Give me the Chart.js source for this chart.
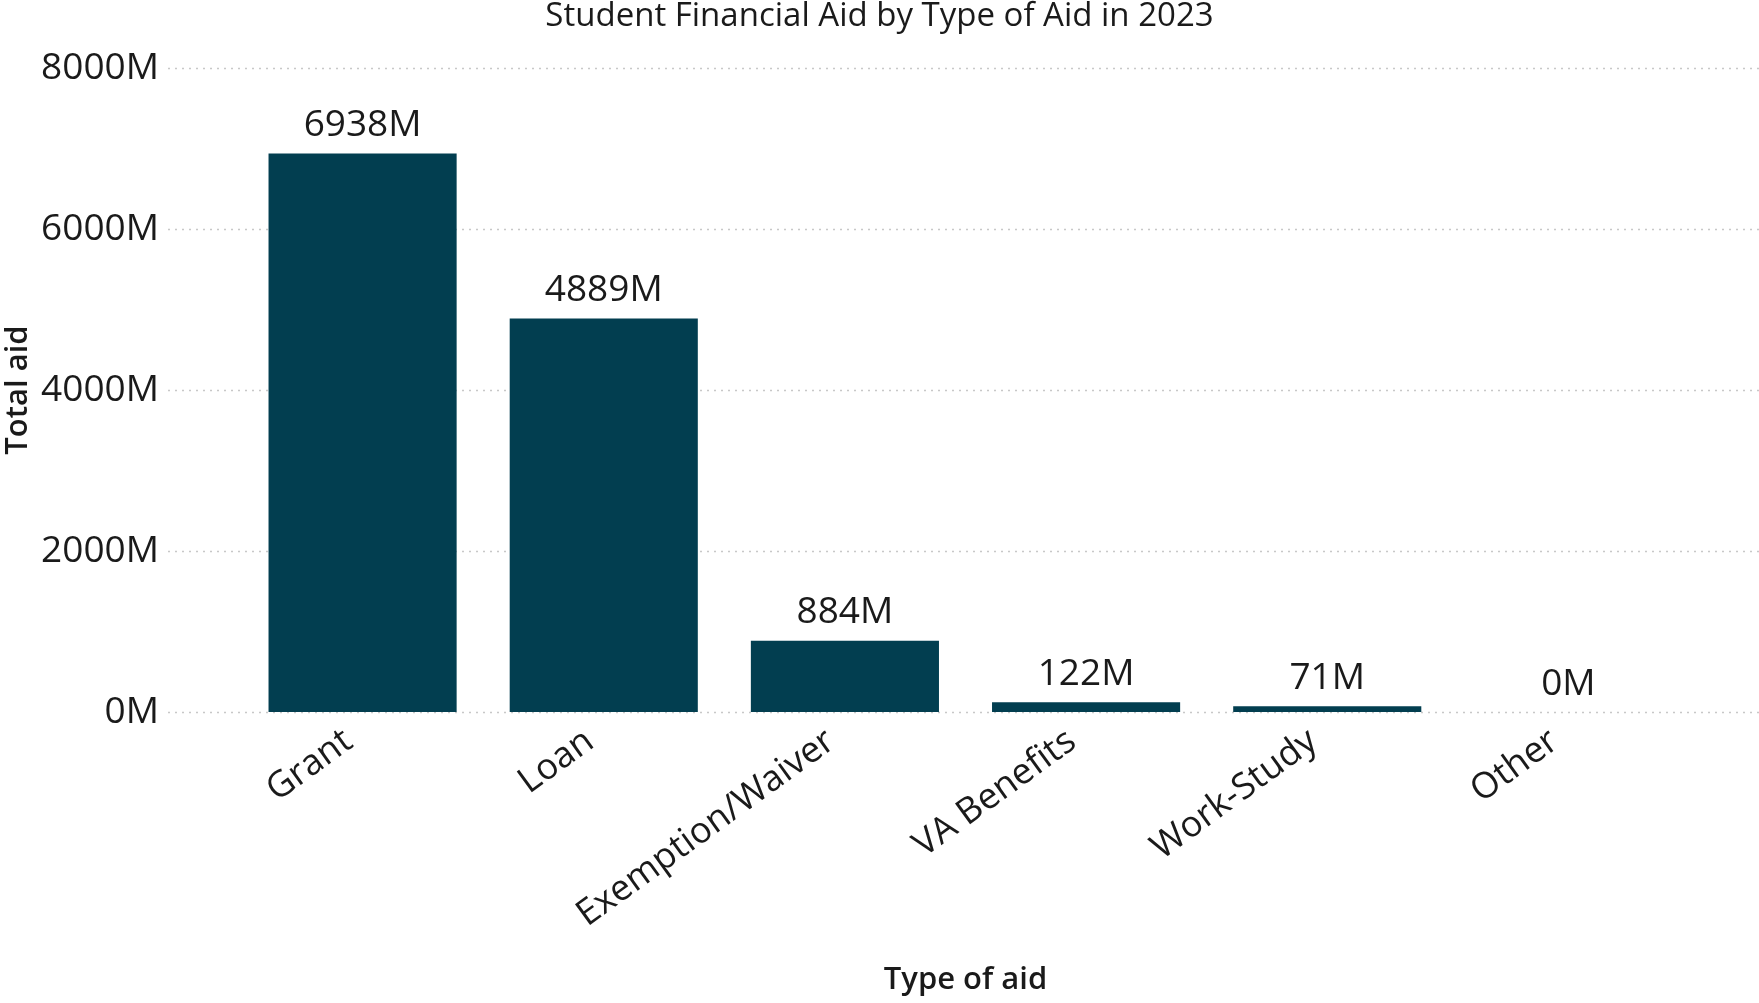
<!DOCTYPE html>
<html>
<head>
<meta charset="utf-8">
<title>Student Financial Aid by Type of Aid in 2023</title>
<script src="https://cdn.jsdelivr.net/npm/chart.js@4.4.1/dist/chart.umd.min.js"></script>
<style>
  html, body { margin: 0; padding: 0; background: #fff; }
  #wrap { width: 1759px; height: 1003px; }
</style>
</head>
<body>
<div id="wrap"><canvas id="aidChart" width="1759" height="1003"></canvas></div>
<script>
// Data (millions of dollars)
const aidTypes = ['Grant', 'Loan', 'Exemption/Waiver', 'VA Benefits', 'Work-Study', 'Other'];
const totalAid = [6938, 4889, 884, 122, 71, 0];
const yTicks = [0, 2000, 4000, 6000, 8000];

const FONT = "'Open Sans', 'Noto Sans', sans-serif";
const BAR_COLOR = '#023e50';

// dotted horizontal gridlines, drawn wider than the bar area
const dottedGrid = {
    id: 'dottedGrid',
    beforeDatasetsDraw(chart) {
        const { ctx, scales: { y } } = chart;
        ctx.save();
        ctx.strokeStyle = '#c8c8c8';
        ctx.lineWidth = 1.5;
        ctx.setLineDash([2, 5]);
        y.ticks.forEach(t => {
            const py = Math.round(y.getPixelForValue(t.value)) + 0.5;
            ctx.beginPath();
            ctx.moveTo(168, py);
            ctx.lineTo(chart.width, py);
            ctx.stroke();
        });
        ctx.restore();
    }
};

// value labels above bars
const barValues = {
    id: 'barValues',
    afterDatasetsDraw(chart) {
        const { ctx } = chart;
        const meta = chart.getDatasetMeta(0);
        ctx.save();
        ctx.font = `37px ${FONT}`;
        ctx.fillStyle = '#1a1a1a';
        ctx.textAlign = 'center';
        ctx.textBaseline = 'middle';
        meta.data.forEach((bar, i) => {
            ctx.fillText(totalAid[i] + 'M', bar.x, bar.y - 28);
        });
        ctx.restore();
    }
};

new Chart(document.getElementById('aidChart'), {
    type: 'bar',
    data: {
        labels: aidTypes,
        datasets: [{
            label: 'Total aid',
            data: totalAid,
            backgroundColor: BAR_COLOR,
            borderWidth: 0,
            categoryPercentage: 1,
            barPercentage: 0.78,
        }]
    },
    options: {
        responsive: false,
        animation: false,
        layout: { padding: 0 },
        plugins: {
            legend: { display: false },
            tooltip: { enabled: false },
            title: {
                display: true,
                text: 'Student Financial Aid by Type of Aid in 2023',
                color: '#1a1a1a',
                font: { family: FONT, size: 33, weight: 'normal', lineHeight: 1 },
                padding: { top: 0, bottom: 35 },
            }
        },
        scales: {
            y: {
                min: 0,
                max: 8000,
                afterBuildTicks(scale) {
                    scale.ticks = yTicks.map(v => ({ value: v }));
                },
                afterFit(scale) {
                    scale.width = 242;
                    // the big tick padding should not push the plot area down
                    scale.paddingTop = 20;
                    scale.paddingBottom = 20;
                },
                grid: { display: false },
                border: { display: false },
                ticks: {
                    padding: 75,
                    color: '#1a1a1a',
                    font: { family: FONT, size: 37 },
                    callback: v => v + 'M',
                },
                title: {
                    display: true,
                    text: 'Total aid',
                    color: '#1a1a1a',
                    font: { family: FONT, size: 31, weight: '600' },
                    padding: { top: 0, bottom: 0 },
                }
            },
            // empty strip on the right so the title stays centred on the canvas
            yRight: {
                type: 'linear',
                position: 'right',
                afterFit(scale) { scale.width = 70; },
                grid: { display: false },
                border: { display: false },
                ticks: { display: false },
            },
            x: {
                afterFit(scale) { scale.height = 1003 - 712; },
                grid: { display: false },
                border: { display: false },
                ticks: {
                    padding: 0,
                    labelOffset: -14,
                    minRotation: 36,
                    maxRotation: 36,
                    color: '#1a1a1a',
                    font: { family: FONT, size: 36 },
                },
                title: {
                    display: true,
                    text: 'Type of aid',
                    color: '#1a1a1a',
                    font: { family: FONT, size: 31, weight: '600' },
                    padding: { top: 0, bottom: 4 },
                }
            }
        }
    },
    plugins: [dottedGrid, barValues]
});
</script>
</body>
</html>
